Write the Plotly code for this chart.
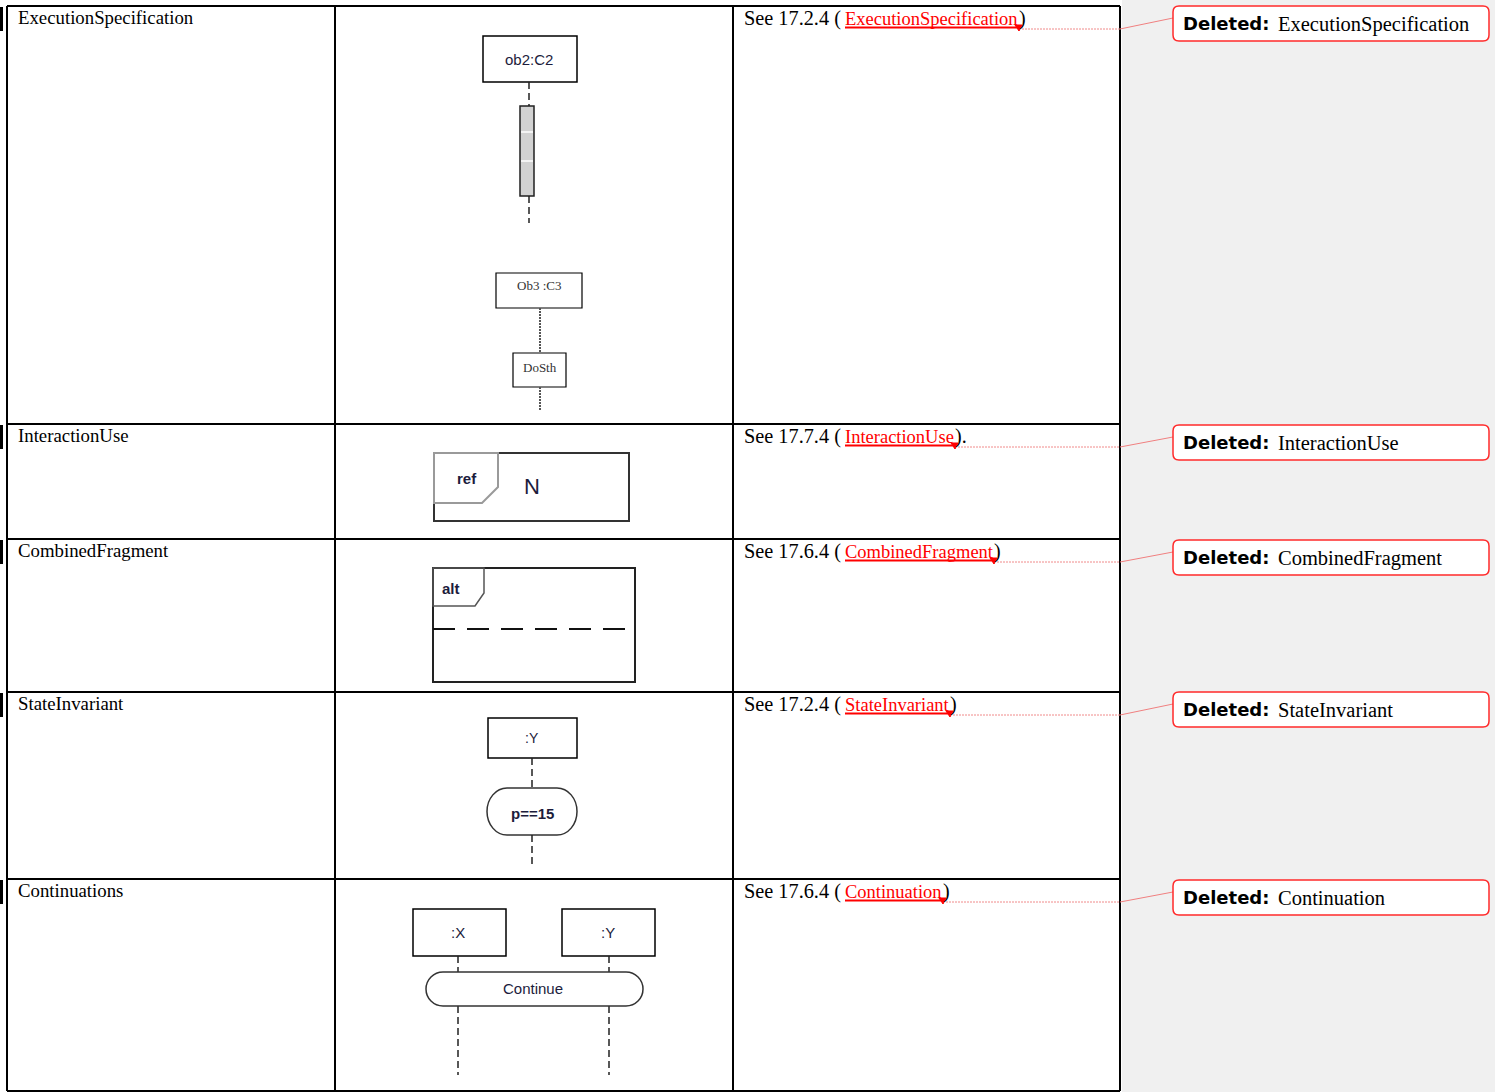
import plotly.graph_objects as go

W, H = 1502, 1092

# ---- content ----
row_labels = ["ExecutionSpecification", "InteractionUse", "CombinedFragment",
              "StateInvariant", "Continuations"]
sections = ["17.2.4", "17.7.4", "17.6.4", "17.2.4", "17.6.4"]
link_texts = ["ExecutionSpecification", "InteractionUse", "CombinedFragment",
              "StateInvariant", "Continuation"]
suffixes = [")", ").", ")", ")", ")"]
deleted_texts = ["ExecutionSpecification", "InteractionUse", "CombinedFragment",
                 "StateInvariant", "Continuation"]

# ---- layout geometry (pixels) ----
row_tops = [6, 424, 539, 692, 879]
table_bottom = 1091
col_x = [7, 335, 733, 1120]
link_x0 = 845
link_ends = [1018, 954, 993, 949, 942]
balloon_tops = [6, 425, 540, 692, 880]

SERIF = "Liberation Serif, Times New Roman, serif"
SANS = "Liberation Sans, Arial, sans-serif"
DJ = "DejaVu Sans, Verdana, sans-serif"
INK = "#1c1c3c"

shapes = []
annots = []


def line(x0, y0, x1, y1, color="black", width=1.5, dash="solid"):
    shapes.append(dict(type="line", x0=x0, y0=y0, x1=x1, y1=y1, xref="x", yref="y",
                       line=dict(color=color, width=width, dash=dash)))


def rect(x0, y0, x1, y1, color="black", width=1.5, fill="white"):
    shapes.append(dict(type="rect", x0=x0, y0=y0, x1=x1, y1=y1, xref="x", yref="y",
                       line=dict(color=color, width=width), fillcolor=fill))


def path(d, color="black", width=1.5, fill=None):
    s = dict(type="path", path=d, xref="x", yref="y", line=dict(color=color, width=width))
    if fill:
        s["fillcolor"] = fill
    shapes.append(s)


def stadium(x0, y0, x1, y1, rx, color="#333", width=1.5):
    ry = (y1 - y0) / 2
    kx, ky = 0.5523 * rx, 0.5523 * ry
    ym = y0 + ry
    d = (f"M{x0+rx},{y0} L{x1-rx},{y0} "
         f"C{x1-rx+kx},{y0} {x1},{ym-ky} {x1},{ym} "
         f"C{x1},{ym+ky} {x1-rx+kx},{y1} {x1-rx},{y1} "
         f"L{x0+rx},{y1} "
         f"C{x0+rx-kx},{y1} {x0},{ym+ky} {x0},{ym} "
         f"C{x0},{ym-ky} {x0+rx-kx},{y0} {x0+rx},{y0} Z")
    path(d, color, width, "white")


def rrect(x0, y0, x1, y1, r, color, width, fill):
    d = (f"M{x0+r},{y0} L{x1-r},{y0} Q{x1},{y0} {x1},{y0+r} L{x1},{y1-r} "
         f"Q{x1},{y1} {x1-r},{y1} L{x0+r},{y1} Q{x0},{y1} {x0},{y1-r} "
         f"L{x0},{y0+r} Q{x0},{y0} {x0+r},{y0} Z")
    path(d, color, width, fill)


def text(x, y, s, size, family=SERIF, color="black", xanchor="left", bold=False):
    if bold:
        s = f"<b>{s}</b>"
    annots.append(dict(x=x, y=y, xref="x", yref="y", text=s, showarrow=False,
                       xanchor=xanchor, yanchor="middle", borderpad=0, borderwidth=0,
                       font=dict(family=family, size=size, color=color)))


LIFE = "7px,4px"

# gray comment margin
rect(1122, -2, 1495, H + 2, color="#f0f0f0", width=0, fill="#f0f0f0")

# table grid
for yt in row_tops:
    line(col_x[0], yt, col_x[-1], yt, width=2)
line(col_x[0], table_bottom, col_x[-1], table_bottom, width=2)
for xc in col_x:
    line(xc, row_tops[0], xc, table_bottom, width=2)

# change bars
for yt in row_tops:
    rect(0, yt + 1, 3, yt + 25, color="black", width=0, fill="black")

for i, yt in enumerate(row_tops):
    # label column
    text(18, yt + 11, row_labels[i], 18.8)
    # description column
    text(744, yt + 12.5, "See " + sections[i] + " (", 20.3)
    text(link_x0, yt + 13, link_texts[i], 18.5, color="#ff0000")
    text(link_ends[i] + 1, yt + 12.5, suffixes[i], 20)
    le = link_ends[i]
    line(link_x0, yt + 21.5, le, yt + 21.5, color="#ff0000", width=2)
    path(f"M{le-3},{yt+19} L{le+4},{yt+19} L{le+1},{yt+25} Z", "#ff0000", 1, "#ff0000")
    line(le + 4, yt + 23, col_x[-1], yt + 23, color="#f08a8a", width=1, dash="2px,1px")
    bt = balloon_tops[i]
    line(col_x[-1], yt + 23, 1173, bt + 12, color="#f08080", width=1)
    # comment balloon
    rrect(1173, bt, 1489, bt + 35, 6, "#ff2a2a", 1.5, "white")
    text(1183, bt + 17, "Deleted:", 18, family=DJ, bold=True)
    text(1278, bt + 18, deleted_texts[i], 20.5)

# ---- row 1: ExecutionSpecification ----
rect(483, 36, 577, 82)
text(529, 59, "ob2:C2", 15, family=SANS, color=INK, xanchor="center")
line(529, 82, 529, 106, color="#222", width=1.5, dash=LIFE)
rect(520, 106, 534, 196, color="#202020", width=1.5, fill="#d2d2d2")
line(521, 132, 533, 132, color="white", width=1.5)
line(521, 161, 533, 161, color="white", width=1.5)
line(529, 196, 529, 223, color="#222", width=1.5, dash=LIFE)

rect(496, 273, 582, 308, width=1.2)
text(539, 285, "Ob3 :C3", 13, family=SERIF, color="#333", xanchor="center")
line(540, 308, 540, 353, color="#555", width=2, dash="2px,1px")
rect(513, 353, 566, 387, width=1.2)
text(539.5, 367, "DoSth", 13, family=SERIF, color="#333", xanchor="center")
line(540, 387, 540, 411, color="#555", width=2, dash="2px,1px")

# ---- row 2: InteractionUse ----
rect(434, 453, 629, 521, color="#333", width=2)
path("M434,503 L434,453 L498,453 L498,487 L482,503 Z", "#9a9a9a", 2)
text(467, 478, "ref", 15, family=SANS, color=INK, xanchor="center", bold=True)
text(532, 486, "N", 22, family=SANS, color=INK, xanchor="center")

# ---- row 3: CombinedFragment ----
rect(433, 568, 635, 682, color="#222", width=2)
path("M433,606 L433,568 L484,568 L484,593 L475,606 Z", "#555", 1.5)
text(451, 588, "alt", 15, family=SANS, color=INK, xanchor="center", bold=True)
line(433, 629, 625, 629, color="#111", width=2, dash="22px,12px")

# ---- row 4: StateInvariant ----
rect(488, 718, 577, 758)
text(532, 738, ":Y", 14, family=SANS, color=INK, xanchor="center")
line(532, 758, 532, 788, color="#222", width=1.5, dash=LIFE)
stadium(487, 788, 577, 835, 20)
text(532, 813, "p==15", 15, family=SANS, color=INK, xanchor="center", bold=True)
line(532, 835, 532, 867, color="#222", width=1.5, dash=LIFE)

# ---- row 5: Continuations ----
rect(413, 909, 506, 956)
rect(562, 909, 655, 956)
text(458, 932, ":X", 15, family=SANS, color=INK, xanchor="center")
text(608, 932, ":Y", 15, family=SANS, color=INK, xanchor="center")
for lx in (458, 609):
    line(lx, 956, lx, 972, color="#222", width=1.5, dash=LIFE)
    line(lx, 1006, lx, 1075, color="#222", width=1.5, dash=LIFE)
stadium(426, 972, 643, 1006, 17)
text(533, 988, "Continue", 15, family=SANS, color=INK, xanchor="center")

fig = go.Figure()
fig.add_trace(go.Scatter(x=[0], y=[0], mode="markers", marker=dict(opacity=0),
                         hoverinfo="skip", showlegend=False))
fig.update_layout(
    width=W, height=H, margin=dict(l=0, r=0, t=0, b=0),
    paper_bgcolor="white", plot_bgcolor="white",
    xaxis=dict(range=[0, W], visible=False, fixedrange=True),
    yaxis=dict(range=[H, 0], visible=False, fixedrange=True),
    shapes=shapes, annotations=annots, showlegend=False, hovermode=False,
)
fig.write_html("out.html", config={"displayModeBar": False},
               post_script="document.body.style.margin='0';document.body.style.overflow='hidden';")
